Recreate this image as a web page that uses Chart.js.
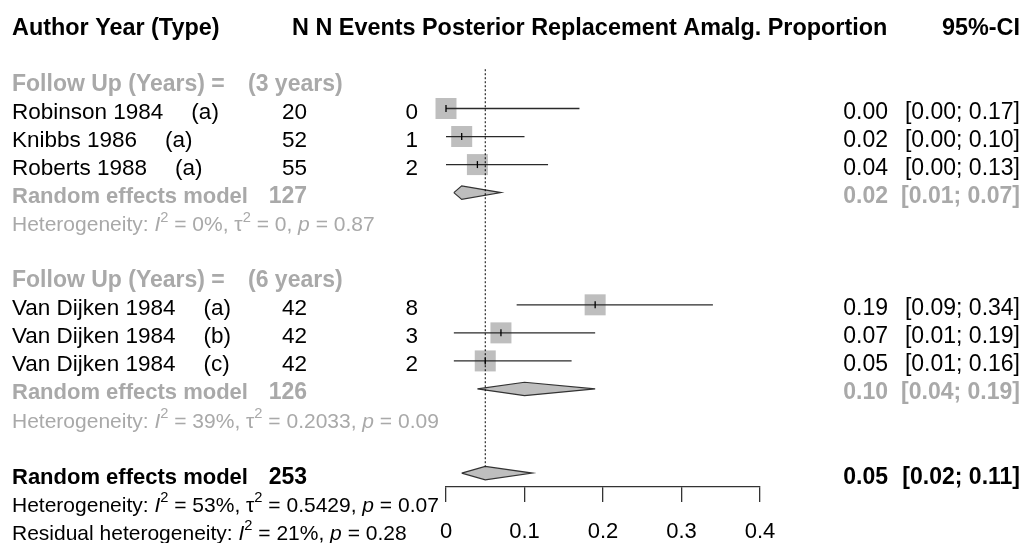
<!DOCTYPE html>
<html>
<head>
<meta charset="utf-8">
<script src="https://cdn.jsdelivr.net/npm/chart.js@4.4.0/dist/chart.umd.min.js"></script>
<style>
  html, body { margin: 0; padding: 0; background: #fff; overflow: hidden; }
</style>
</head>
<body>
<canvas id="forest" width="1025" height="543"></canvas>
<script>
// study level data
const studyNames = ["Robinson 1984", "Knibbs 1986", "Roberts 1988", "Van Dijken 1984", "Van Dijken 1984", "Van Dijken 1984"];
const studyTypes = ["(a)", "(a)", "(a)", "(a)", "(b)", "(c)"];
const studyGroup = [0, 0, 0, 1, 1, 1];
const studyN = [20, 52, 55, 42, 42, 42];
const studyEvents = [0, 1, 2, 8, 3, 2];
const studyProp = [0.00, 0.02, 0.04, 0.19, 0.07, 0.05];
const studyLower = [0.00, 0.00, 0.00, 0.09, 0.01, 0.01];
const studyUpper = [0.17, 0.10, 0.13, 0.34, 0.19, 0.16];

// subgroup summaries (follow up)
const groupLabels = ["(3 years)", "(6 years)"];
const groupN = [127, 126];
const groupProp = [0.02, 0.10];
const groupLower = [0.01, 0.04];
const groupUpper = [0.07, 0.19];
const groupI2 = ["0%", "39%"];
const groupTau2 = ["0", "0.2033"];
const groupP = ["0.87", "0.09"];

// overall random effects model
const overallN = 253;
const overallProp = 0.05;
const overallLower = 0.02;
const overallUpper = 0.11;
const overallI2 = "53%";
const overallTau2 = "0.5429";
const overallP = "0.07";
const residualI2 = "21%";
const residualP = "0.28";

// x axis
const xTicks = [0, 0.1, 0.2, 0.3, 0.4];
const xTickLabels = ["0", "0.1", "0.2", "0.3", "0.4"];

const headers = ["Author Year (Type)", "N", "N Events", "Posterior", "Replacement", "Amalg.", "Proportion", "95%-CI"];

const FONT = '"Liberation Sans", Arial, Helvetica, sans-serif';
const GREY = "#a9a9a9";
const SQUARE = 21;       // px side of study squares
const DIAMOND_H = 0.24;  // half height of diamonds, in rows
const REF_TOP = 1.6;     // row where the dotted reference line starts

// work out which row every piece goes on
const studyRow = [];
const groupHeadRow = [], groupRow = [], groupHetRow = [];
let r = 2;
groupLabels.forEach((g, gi) => {
  groupHeadRow.push(r);
  r++;
  studyGroup.forEach((sg, i) => { if (sg === gi) studyRow[i] = r++; });
  groupRow.push(r++);
  groupHetRow.push(r++);
  r++;
});
const overallRow = r;

const lineSets = studyNames.map((s, i) => ({
  type: "scatter",
  showLine: true,
  data: [{ x: studyLower[i], y: studyRow[i] }, { x: studyUpper[i], y: studyRow[i] }],
  borderColor: "#2a2a2a",
  borderWidth: 1.3,
  pointRadius: 0,
  clip: false,
  order: 3
}));

const diamond = (est, lo, hi, row, edge) => ({
  type: "scatter",
  showLine: true,
  data: [
    { x: lo, y: row }, { x: est, y: row - DIAMOND_H },
    { x: hi, y: row }, { x: est, y: row + DIAMOND_H }, { x: lo, y: row }
  ],
  borderColor: edge,
  borderWidth: 1.2,
  backgroundColor: "#bebebe",
  fill: "shape",
  pointRadius: 0,
  clip: false,
  order: 2
});

const datasets = [
  {
    // study weights
    data: studyProp.map((p, i) => ({ x: p, y: studyRow[i] })),
    pointStyle: "rect",
    pointRadius: SQUARE / Math.SQRT2,
    backgroundColor: "#bebebe",
    borderWidth: 0,
    clip: false,
    order: 4
  },
  ...lineSets,
  {
    // estimate marks inside the squares
    data: studyProp.map((p, i) => ({ x: p, y: studyRow[i] })),
    pointStyle: "line",
    rotation: 90,
    pointRadius: 3.5,
    borderColor: "#000",
    borderWidth: 1.3,
    clip: false,
    order: 2
  },
  ...groupProp.map((p, gi) => diamond(p, groupLower[gi], groupUpper[gi], groupRow[gi], "#333")),
  diamond(overallProp, overallLower, overallUpper, overallRow, "#333"),
  {
    // reference line at the overall estimate
    type: "scatter",
    showLine: true,
    data: [{ x: overallProp, y: REF_TOP }, { x: overallProp, y: overallRow - DIAMOND_H }],
    borderColor: "#000",
    borderWidth: 1,
    borderDash: [2, 2],
    pointRadius: 0,
    clip: false,
    order: 0
  }
];

// text columns
const forestText = {
  id: "forestText",
  afterDraw(chart) {
    const ctx = chart.ctx;
    const ys = chart.scales.y;
    const base = row => ys.getPixelForValue(row) + 10.5;
    ctx.save();
    ctx.textBaseline = "alphabetic";

    const put = (txt, x, row, o = {}) => {
      ctx.font = (o.bold ? "bold " : "") + (o.size || 22.5) + "px " + FONT;
      ctx.fillStyle = o.color || "#000";
      ctx.textAlign = o.align || "left";
      ctx.fillText(txt, x, base(row));
      return ctx.measureText(txt).width;
    };

    const rich = (parts, row, color) => {
      let x = 12;
      const size = 21;
      ctx.textAlign = "left";
      ctx.fillStyle = color;
      parts.forEach(p => {
        const fs = p.sup ? size * 0.7 : size;
        ctx.font = (p.it ? "italic " : "") + fs + "px " + FONT;
        ctx.fillText(p.t, x, base(row) - (p.sup ? size * 0.45 : 0));
        x += ctx.measureText(p.t).width;
      });
    };

    const het = (i2, tau2, p) => [
      { t: "Heterogeneity: " }, { t: "I", it: true }, { t: "2", sup: true },
      { t: " = " + i2 + ", " }, { t: "\u03c4" }, { t: "2", sup: true },
      { t: " = " + tau2 + ", " }, { t: "p", it: true }, { t: " = " + p }
    ];

    // header line
    const hb = { bold: true, size: 23.4 };
    put(headers[0], 12, 0, hb);
    let hx = 292;
    headers.slice(1, 7).forEach(h => { hx += put(h, hx, 0, hb) + 6.5; });
    put(headers[7], 1020, 0, { ...hb, align: "right" });

    const ci = (lo, hi) => "[" + lo.toFixed(2) + "; " + hi.toFixed(2) + "]";

    groupLabels.forEach((g, gi) => {
      const gh = { bold: true, size: 23, color: GREY };
      const gb = { bold: true, size: 22, color: GREY };
      put("Follow Up (Years) =", 12, groupHeadRow[gi], gh);
      put(g, 248, groupHeadRow[gi], gh);
      put("Random effects model", 12, groupRow[gi], gb);
      put(String(groupN[gi]), 307, groupRow[gi], { ...gb, size: 23, align: "right" });
      put(groupProp[gi].toFixed(2), 888, groupRow[gi], { ...gb, size: 23, align: "right" });
      put(ci(groupLower[gi], groupUpper[gi]), 1020, groupRow[gi], { ...gb, size: 23, align: "right" });
      rich(het(groupI2[gi], groupTau2[gi], groupP[gi]), groupHetRow[gi], GREY);
    });

    studyNames.forEach((s, i) => {
      const row = studyRow[i];
      const w = put(s, 12, row);
      put(studyTypes[i], 12 + w + 28, row);
      put(String(studyN[i]), 307, row, { align: "right" });
      put(String(studyEvents[i]), 418, row, { align: "right" });
      put(studyProp[i].toFixed(2), 888, row, { size: 23, align: "right" });
      put(ci(studyLower[i], studyUpper[i]), 1020, row, { size: 23, align: "right" });
    });

    put("Random effects model", 12, overallRow, { bold: true, size: 22 });
    put(String(overallN), 307, overallRow, { bold: true, size: 23, align: "right" });
    put(overallProp.toFixed(2), 888, overallRow, { bold: true, size: 23, align: "right" });
    put(ci(overallLower, overallUpper), 1020, overallRow, { bold: true, size: 23, align: "right" });
    rich(het(overallI2, overallTau2, overallP), overallRow + 1, "#000");
    rich([
      { t: "Residual heterogeneity: " }, { t: "I", it: true }, { t: "2", sup: true },
      { t: " = " + residualI2 + ", " }, { t: "p", it: true }, { t: " = " + residualP }
    ], overallRow + 2, "#000");

    ctx.restore();
  }
};

const forest = new Chart(document.getElementById("forest"), {
  type: "scatter",
  data: { datasets },
  options: {
    responsive: false,
    animation: false,
    events: [],
    layout: { padding: { left: 446, right: 265, top: 14, bottom: 0 } },
    plugins: { legend: { display: false }, tooltip: { enabled: false } },
    scales: {
      x: {
        type: "linear",
        min: xTicks[0],
        max: xTicks[xTicks.length - 1],
        afterBuildTicks: s => { s.ticks = xTicks.map(v => ({ value: v })); },
        afterFit: s => { s.height = 56; },
        grid: { drawOnChartArea: false, drawTicks: true, tickLength: 15, color: "#333", lineWidth: 1.3 },
        border: { display: true, color: "#333", width: 1.3 },
        ticks: {
          padding: 17,
          color: "#000",
          autoSkip: false,
          maxRotation: 0,
          font: { family: FONT, size: 22 },
          callback: (v, i) => xTickLabels[i]
        }
      },
      y: {
        type: "linear",
        reverse: true,
        min: -0.338,
        max: 16.495,
        display: false
      }
    }
  },
  plugins: [forestText]
});
</script>
</body>
</html>
